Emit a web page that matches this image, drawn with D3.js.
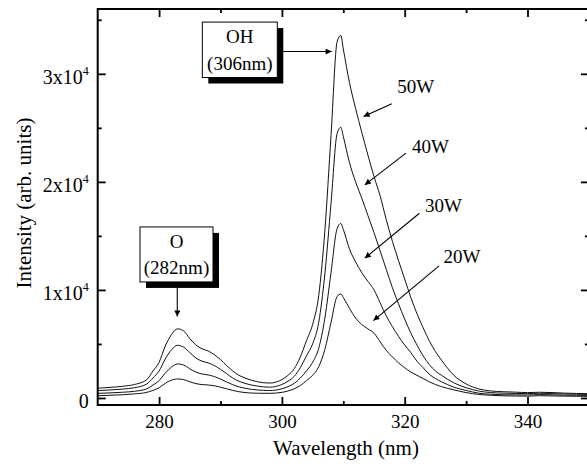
<!DOCTYPE html>
<head>
  <meta charset="utf-8" />
  <script src="https://d3js.org/d3.v7.min.js"></script>
  <style>
    body {
      margin: 0;
      background: #fff;
    }
    text {
      font-family: "Liberation Serif", "Times New Roman", serif;
      fill: #000;
    }
  </style>
</head>

<body>
  <script>
    var width = 587,
      height = 464;

    // wavelength samples (nm)
    var wavelength = [
      270, 272, 274, 276, 278, 279, 280, 281, 282, 283, 284, 285, 286, 287, 288, 289, 290, 291, 292, 293, 294, 296, 298,
      300, 301, 302, 303, 304, 305, 306, 307, 308, 309, 309.6, 310, 311, 312, 313, 314, 315, 316, 317, 318, 319, 320,
      321, 322, 323, 324, 325, 326, 328, 330, 332, 334, 336, 338, 340, 342, 344, 346, 348, 350
    ];
    // intensity for each power
    var w50 = [
      900, 980, 1080, 1250, 1700, 2500, 3300, 4800, 5850, 6400, 6200, 5500, 4900, 4550, 4350, 4000, 3550, 3000, 2500, 2100, 1850, 1500, 1380,
      1700, 2100, 2700, 3800, 5300, 6800, 9500, 15500, 24300, 33000, 33550, 32300, 29200, 26800, 24600, 22500, 20500, 18700, 16500, 14500, 12700, 11000,
      9300, 7800, 6500, 5300, 4300, 3500, 2100, 1300, 850, 650, 580, 540, 500, 530, 500, 450, 420, 400
    ];
    var w40 = [
      680, 740, 820, 950, 1300, 1850, 2500, 3600, 4450, 4880, 4700, 4200, 3700, 3400, 3250, 3000, 2650, 2250, 1850, 1550, 1350, 1100, 1000,
      1250, 1550, 2000, 2800, 3900, 5000, 7000, 11500, 18000, 24500, 25050, 24200, 21800, 20000, 18500, 16900, 15300, 13600, 11900, 10200, 8700, 7300,
      6000, 4900, 3900, 3100, 2500, 2100, 1400, 950, 650, 500, 450, 420, 400, 440, 400, 370, 350, 330
    ];
    var w30 = [
      430, 470, 530, 620, 850, 1200, 1600, 2300, 2850, 3150, 3050, 2700, 2400, 2220, 2130, 1980, 1750, 1480, 1230, 1030, 900, 740, 690,
      850, 1050, 1350, 1850, 2500, 3300, 4600, 7400, 11600, 15700, 16150, 15600, 13800, 12600, 11600, 10800, 10000, 8800, 7600, 6600, 5700, 4900,
      4200, 3400, 2800, 2200, 1800, 1500, 1000, 700, 450, 350, 300, 290, 280, 320, 290, 260, 250, 240
    ];
    var w20 = [
      210, 250, 300, 380, 520, 700, 950, 1350, 1650, 1760, 1700, 1500, 1330, 1240, 1200, 1130, 1000, 850, 700, 580, 500, 440, 430,
      520, 650, 850, 1150, 1600, 2100, 2900, 4500, 7000, 9400, 9630, 9300, 8300, 7400, 6800, 6400, 6000, 5200, 4400, 3800, 3250, 2800,
      2400, 2100, 1800, 1500, 1250, 1050, 750, 500, 330, 250, 200, 180, 170, 210, 190, 170, 160, 150
    ];
    var series = [w50, w40, w30, w20];

    var xTicks = [280, 300, 320, 340];
    var xMinor = [290, 310, 330, 350];
    var yTicks = [0, 10000, 20000, 30000];
    var yMinor = [5000, 15000, 25000, 35000];

    // power labels: text, label pos (nm, value), arrow from -> to
    var powerLabels = ["50W", "40W", "30W", "20W"];
    var labelPos = [[318.8, 28240], [321.2, 22690], [323.3, 17250], [326.3, 12470]];
    var arrowFrom = [[317.9, 27220], [320.2, 22660], [322.4, 17100], [325.6, 12220]];
    var arrowTo = [[313.3, 26050], [313.5, 19720], [313.5, 12940], [314.9, 7160]];

    // boxed peak labels
    var peakNames = ["OH", "O"];
    var peakNm = ["(306nm)", "(282nm)"];
    var boxX = [[287.04, 299.25], [276.89, 288.78]];
    var boxY = [[34790, 29660], [15830, 10740]];
    var peakArrowFrom = [[300.2, 32060], [282.96, 10185]];
    var peakArrowTo = [[308.1, 32060], [282.96, 7530]];

    var svg = d3
      .select("body")
      .append("svg")
      .attr("width", width)
      .attr("height", height);

    var x = d3.scaleLinear().domain([270, 350]).range([97.7, 588.9]);
    var y = d3.scaleLinear().domain([-650, 36000]).range([405, 9]);

    svg
      .append("defs")
      .append("marker")
      .attr("id", "arrow")
      .attr("viewBox", "0 0 10 10")
      .attr("refX", 10)
      .attr("refY", 5)
      .attr("markerUnits", "userSpaceOnUse")
      .attr("markerWidth", 9)
      .attr("markerHeight", 6)
      .attr("orient", "auto")
      .append("path")
      .attr("d", "M0,0L10,5L0,10z")
      .attr("fill", "#000");

    // curves
    var line = d3
      .line()
      .x((d, i) => x(wavelength[i]))
      .y((d) => y(d))
      .curve(d3.curveMonotoneX);

    svg
      .append("g")
      .selectAll("path")
      .data(series)
      .join("path")
      .attr("d", line)
      .attr("fill", "none")
      .attr("stroke", "#111")
      .attr("stroke-width", 1);

    // axes (ticks pointing inward)
    var fmt = () => "";
    var gx = svg
      .append("g")
      .attr("transform", "translate(0," + y.range()[0] + ")")
      .call(d3.axisBottom(x).tickValues(xTicks).tickSizeInner(-8).tickSizeOuter(0).tickPadding(10));
    svg
      .append("g")
      .attr("transform", "translate(0," + y.range()[0] + ")")
      .call(d3.axisBottom(x).tickValues(xMinor).tickSizeInner(-4).tickSizeOuter(0).tickFormat(fmt));
    svg
      .append("g")
      .attr("transform", "translate(0," + y.range()[1] + ")")
      .call(d3.axisTop(x).tickValues(xTicks).tickSizeInner(-8).tickSizeOuter(0).tickFormat(fmt));
    svg
      .append("g")
      .attr("transform", "translate(0," + y.range()[1] + ")")
      .call(d3.axisTop(x).tickValues(xMinor).tickSizeInner(-4).tickSizeOuter(0).tickFormat(fmt));

    var gy = svg
      .append("g")
      .attr("transform", "translate(" + x.range()[0] + ",0)")
      .call(d3.axisLeft(y).tickValues(yTicks).tickSizeInner(-8).tickSizeOuter(0).tickPadding(9).tickFormat(fmt));
    svg
      .append("g")
      .attr("transform", "translate(" + x.range()[0] + ",0)")
      .call(d3.axisLeft(y).tickValues(yMinor).tickSizeInner(-4).tickSizeOuter(0).tickFormat(fmt));
    svg
      .append("g")
      .attr("transform", "translate(" + x.range()[1] + ",0)")
      .call(d3.axisRight(y).tickValues(yTicks).tickSizeInner(-8).tickSizeOuter(0).tickFormat(fmt));
    svg
      .append("g")
      .attr("transform", "translate(" + x.range()[1] + ",0)")
      .call(d3.axisRight(y).tickValues(yMinor).tickSizeInner(-4).tickSizeOuter(0).tickFormat(fmt));

    svg.selectAll(".domain").attr("stroke", "none");
    svg.selectAll(".tick line").attr("stroke", "#000").attr("stroke-width", 1.8);

    gx.selectAll("text").attr("font-size", 19).attr("font-family", "Liberation Serif");

    // y labels as "Nx10^4"
    gy.selectAll(".tick text")
      .attr("font-size", 20)
      .attr("font-family", "Liberation Serif")
      .attr("dy", "0.5em")
      .each(function (d) {
        var t = d3.select(this);
        if (d === 0) {
          t.text("0");
          return;
        }
        t.text(d / 10000 + "x10");
        t.append("tspan").attr("dy", -9).attr("font-size", 12).text("4");
      });

    // frame
    svg
      .append("rect")
      .attr("x", x.range()[0])
      .attr("y", y.range()[1])
      .attr("width", x.range()[1] - x.range()[0])
      .attr("height", y.range()[0] - y.range()[1])
      .attr("fill", "none")
      .attr("stroke", "#000")
      .attr("stroke-width", 2);

    // axis titles
    svg
      .append("text")
      .attr("x", 346)
      .attr("y", 455)
      .attr("text-anchor", "middle")
      .attr("font-size", 21)
      .text("Wavelength (nm)");
    svg
      .append("text")
      .attr("transform", "translate(31,203) rotate(-90)")
      .attr("text-anchor", "middle")
      .attr("font-size", 21)
      .text("Intensity (arb. units)");

    // power labels with arrows
    var ann = svg.append("g");
    powerLabels.forEach(function (lab, i) {
      ann
        .append("text")
        .attr("x", x(labelPos[i][0]))
        .attr("y", y(labelPos[i][1]))
        .attr("font-size", 19)
        .text(lab);
      ann
        .append("line")
        .attr("x1", x(arrowFrom[i][0]))
        .attr("y1", y(arrowFrom[i][1]))
        .attr("x2", x(arrowTo[i][0]))
        .attr("y2", y(arrowTo[i][1]))
        .attr("stroke", "#000")
        .attr("stroke-width", 1.1)
        .attr("marker-end", "url(#arrow)");
    });

    // boxed peak labels with shadow
    peakNames.forEach(function (name, i) {
      var x0 = x(boxX[i][0]),
        x1 = x(boxX[i][1]),
        y0 = y(boxY[i][0]),
        y1 = y(boxY[i][1]);
      ann
        .append("rect")
        .attr("x", x0 + 6)
        .attr("y", y0 + 6)
        .attr("width", x1 - x0)
        .attr("height", y1 - y0)
        .attr("fill", "#000");
      ann
        .append("rect")
        .attr("x", x0)
        .attr("y", y0)
        .attr("width", x1 - x0)
        .attr("height", y1 - y0)
        .attr("fill", "#fff")
        .attr("stroke", "#000")
        .attr("stroke-width", 1);
      ann
        .append("text")
        .attr("x", (x0 + x1) / 2)
        .attr("y", y0 + 21)
        .attr("text-anchor", "middle")
        .attr("font-size", 19)
        .text(name);
      ann
        .append("text")
        .attr("x", (x0 + x1) / 2)
        .attr("y", y0 + 47.5)
        .attr("text-anchor", "middle")
        .attr("font-size", 19)
        .text(peakNm[i]);
      ann
        .append("line")
        .attr("x1", x(peakArrowFrom[i][0]))
        .attr("y1", y(peakArrowFrom[i][1]))
        .attr("x2", x(peakArrowTo[i][0]))
        .attr("y2", y(peakArrowTo[i][1]))
        .attr("stroke", "#000")
        .attr("stroke-width", 1.1)
        .attr("marker-end", "url(#arrow)");
    });
  </script>
</body>
